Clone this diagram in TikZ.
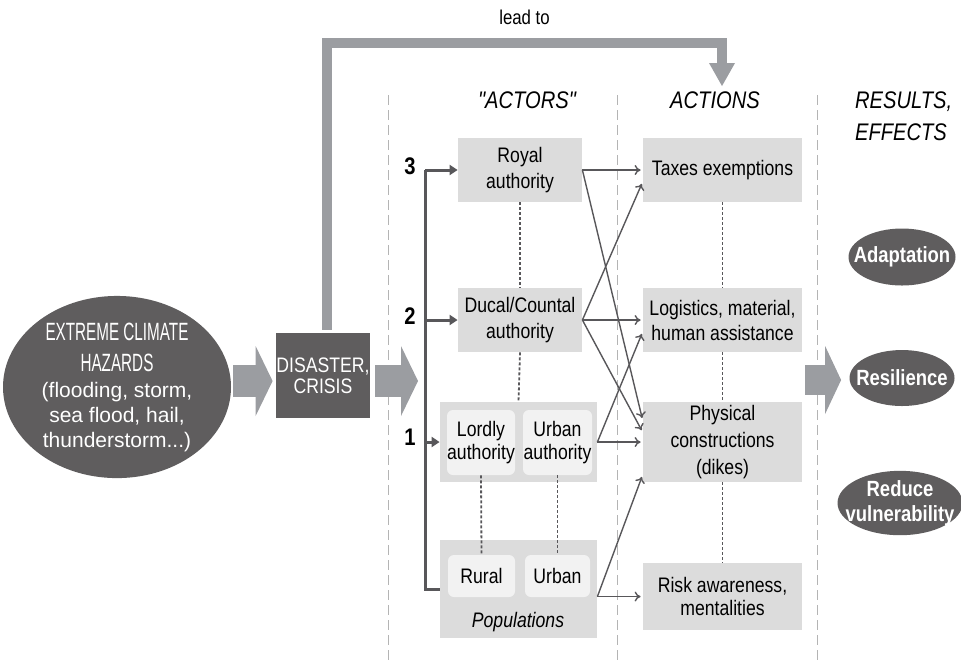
\documentclass[tikz,border=0pt]{standalone}
\usepackage{fontspec}
\setmainfont{Liberation Sans}[FakeStretch=0.84]
\newfontfamily\widefont{Liberation Sans}
\newfontfamily\capsfont{Liberation Sans}[FakeStretch=0.61]
\newfontfamily\headfont{Liberation Sans}[FakeStretch=0.84, Ligatures=TeXOff]
\usepackage{tikz}
\usetikzlibrary{arrows.meta,calc,shapes.geometric}

\definecolor{darkfill}{RGB}{95,93,94}
\definecolor{blockgray}{RGB}{155,157,161}
\definecolor{boxgray}{RGB}{220,220,220}
\definecolor{innergray}{RGB}{242,242,242}
\definecolor{dashgray}{RGB}{180,180,180}
\definecolor{linegray}{RGB}{88,87,90}

\begin{document}
\begin{tikzpicture}[x=0.5pt,y=-0.5pt,
  txt/.style={font=\fontsize{10.5}{12.5}\selectfont, align=center},
  actor/.style={txt, fill=boxgray, inner sep=0pt, minimum width=62pt, minimum height=32pt},
  action/.style={txt, fill=boxgray, inner sep=0pt, minimum width=79.5pt},
  group/.style={fill=boxgray, inner sep=0pt, minimum width=78.5pt},
  innerbox/.style={txt, fill=innergray, rounded corners=3pt, inner sep=0pt},
  result/.style={ellipse, fill=darkfill, text=white, inner xsep=-6pt, inner ysep=0pt, align=center, font=\fontsize{11}{12.5}\selectfont\bfseries},
  heading/.style={font=\headfont\fontsize{12}{16}\selectfont\itshape, align=left},
  level/.style={font=\fontsize{12}{12}\selectfont\bfseries},
  column/.style={dashgray, line width=0.5pt, dash pattern=on 5pt off 2.5pt},
  link/.style={linegray, line width=0.9pt, dash pattern=on 1.5pt off 1pt},
  flow/.style={linegray, line width=0.7pt, shorten >=1pt, -{To[length=3pt,width=5pt]}},
  bracket/.style={linegray, line width=1.5pt, line join=miter},
  block/.style={blockgray, line width=16pt, -{Triangle[length=8.5pt,width=35pt,line width=0pt]}}
]
\useasboundingbox (0,0) rectangle (961,661);

% columns
\draw[column] (388,95) -- (388,661);
\draw[column] (617,95) -- (617,661);
\draw[column] (817,95) -- (817,661);

\node[heading] (actorshead) at (527,100) {"ACTORS"};
\node[heading] (actionshead) at (715,100) {ACTIONS};
\node[heading, anchor=north west] (resultshead) at (848,85) {RESULTS,\\EFFECTS};

% hazard and crisis
\node[ellipse, fill=darkfill, text=white, inner sep=0pt, align=center,
  minimum width=114pt, minimum height=83pt, font=\fontsize{10.5}{12.5}\selectfont] (hazards) at (117,387)
  {\capsfont\fontsize{12.5}{12.5}\selectfont EXTREME CLIMATE\\[3pt]\capsfont\fontsize{12.5}{12.5}\selectfont HAZARDS\\[0.5pt]
   \widefont\fontsize{10.5}{12.5}\selectfont (flooding, storm,\\\widefont sea flood, hail,\\\widefont thunderstorm...)};
\node[txt, fill=darkfill, text=white, inner sep=0pt, minimum width=47pt, minimum height=42.5pt,
  font=\fontsize{10.5}{10.5}\selectfont] (disaster) at (323,375.5) {DISASTER,\\CRISIS};

\coordinate (flowline) at (0,381);
\coordinate (actorsin) at (418,381);
\draw[block, shorten <=1pt, shorten >=1.5pt] (hazards.east |- flowline) -- (disaster.west |- flowline);
\draw[block, shorten <=2.5pt] (disaster.east |- flowline) -- (actorsin);

% lead to
\coordinate (leadstart) at ($(disaster.north)+(4,0)$);
\coordinate (leadtop) at (722,42.5);
\coordinate (leadend) at (722,86);
\draw[blockgray, line width=5pt, line join=miter, shorten <=1.5pt,
  -{Triangle[length=11.5pt,width=13pt,line width=0pt]}]
  (leadstart) -- (leadstart |- leadtop)
  -- node[above=3pt, text=black, font=\fontsize{10}{12}\selectfont] (leadlabel) {lead to} (leadtop) -- (leadend);

% actors
\node[actor, font=\fontsize{10.5}{13}\selectfont] (royal) at (520,170) {Royal\\authority};
\node[actor, font=\fontsize{10.5}{13}\selectfont] (ducal) at (520,320) {Ducal/Countal\\authority};
\node[group, minimum height=40pt] (lordgroup) at (518.5,442) {};
\node[innerbox, minimum width=34pt, minimum height=32.5pt, font=\fontsize{10.5}{11.5}\selectfont] (lordly) at (481,442.5) {Lordly\\authority};
\node[innerbox, minimum width=34.5pt, minimum height=32.5pt, font=\fontsize{10.5}{11.5}\selectfont] (urbanauth) at (557.5,442.5) {Urban\\authority};
\node[group, minimum height=49pt] (popgroup) at (518.5,589) {};
\node[innerbox, minimum width=33.5pt, minimum height=21pt] (rural) at (481.5,576) {Rural};
\node[innerbox, minimum width=32.5pt, minimum height=21pt] (urbanpop) at (557.5,576) {Urban};
\node[txt, font=\fontsize{10.5}{12}\selectfont\itshape] (poplabel) at (518,622) {Populations};

\draw[link] (royal.south) -- (ducal.north);
\draw[link] (ducal.south) -- (lordgroup.north);
\draw[link] (lordly.south) -- (rural.north);
\draw[link] (urbanauth.south) -- (urbanpop.north);

% levels
\coordinate (brtop) at (425,170);
\draw[bracket] (brtop) |- (popgroup.west);
\draw[bracket, -{Triangle[length=4pt,width=5pt]}] (brtop) -- (royal.west);
\draw[bracket, -{Triangle[length=4pt,width=5pt]}] (brtop |- ducal.west) -- (ducal.west);
\draw[bracket, -{Triangle[length=4pt,width=5pt]}] (brtop |- lordgroup.west) -- (lordgroup.west);
\node[level] (lvl3) at (410,166) {3};
\node[level] (lvl2) at (410,316) {2};
\node[level] (lvl1) at (410,437) {1};

% actions
\node[action, minimum height=32pt] (taxes) at (722.5,170) {Taxes exemptions};
\node[action, minimum height=32pt] (logist) at (722.5,320) {Logistics, material,\\human assistance};
\node[action, minimum height=40pt, font=\fontsize{10.5}{13.5}\selectfont] (phys) at (722.5,442) {Physical\\constructions\\(dikes)};
\node[action, minimum height=33.5pt, font=\fontsize{10.5}{11.5}\selectfont] (risk) at (722.5,596.5) {Risk awareness,\\mentalities};

\draw[link] (taxes.south) -- (logist.north);
\draw[link] (logist.south) -- (phys.north);
\draw[link] (phys.south) -- (risk.north);

\draw[flow] (royal.east) -- (taxes.west);
\draw[flow] (royal.east) -- ($(phys.west)+(0,-22)$);
\draw[flow] (ducal.east) -- ($(taxes.west)+(0,12)$);
\draw[flow] (ducal.east) -- (logist.west);
\draw[flow] (ducal.east) -- ($(phys.west)+(0,-10)$);
\draw[flow] (lordgroup.east) -- (phys.west);
\draw[flow] (lordgroup.east) -- ($(logist.west)+(0,12)$);
\draw[flow] (popgroup.east |- risk.west) -- (risk.west);
\draw[flow] (popgroup.east |- risk.west) -- ($(phys.west)+(0,33)$);

% results
\node[result, minimum width=53.5pt, minimum height=28.5pt] (adapt) at (902,257) {Adaptation};
\node[result, minimum width=52.5pt, minimum height=28pt] (resil) at (902,378) {Resilience};
\node[result, minimum width=62.5pt, minimum height=31.5pt] (reduce) at (900,503) {Reduce\\vulnerability};

\coordinate (resout) at (805,380);
\draw[block, line width=15pt, -{Triangle[length=8pt,width=34pt,line width=0pt]}, shorten >=4pt] (resout) -- (resil.west |- resout);
\end{tikzpicture}
\end{document}
